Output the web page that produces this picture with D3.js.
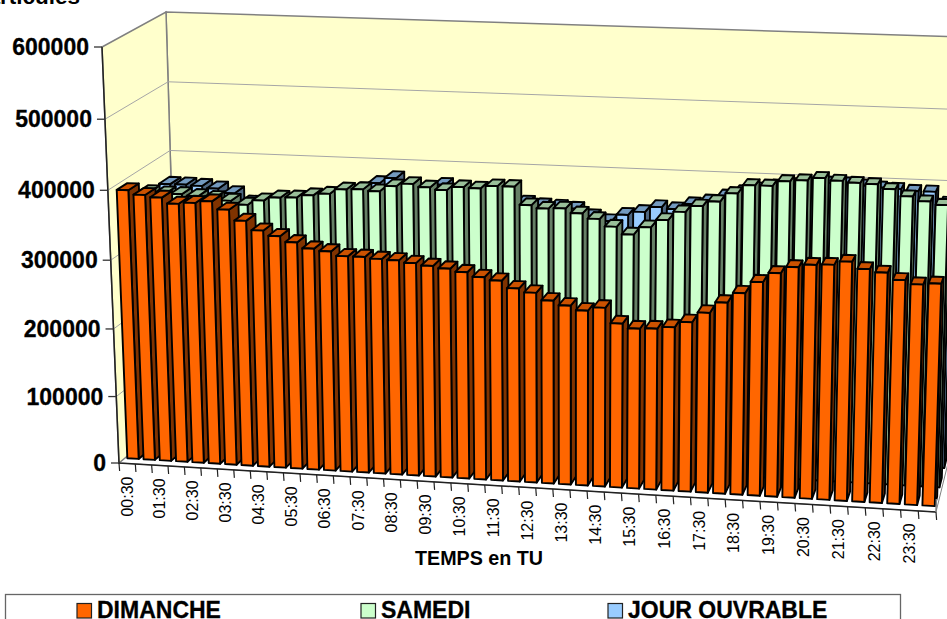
<!DOCTYPE html>
<html><head><meta charset="utf-8">
<script src="https://cdn.jsdelivr.net/npm/d3@7"></script>
<style>html,body{margin:0;padding:0;background:#fff;overflow:hidden}svg{display:block}text{font-family:"Liberation Sans",Arial,sans-serif}</style>
</head><body><svg id="c" width="947" height="619"></svg>
<script>
const categories=["00:30","01:00","01:30","02:00","02:30","03:00","03:30","04:00","04:30","05:00","05:30","06:00","06:30","07:00","07:30","08:00","08:30","09:00","09:30","10:00","10:30","11:00","11:30","12:00","12:30","13:00","13:30","14:00","14:30","15:00","15:30","16:00","16:30","17:00","17:30","18:00","18:30","19:00","19:30","20:00","20:30","21:00","21:30","22:00","22:30","23:00","23:30","24:00"];
const dimanche=[395,389,386,378,380,383,372,357,344,337,329,321,318,312,312,310,309,306,303,300,296,290,286,276,271,261,255,249,254,233,227,228,231,239,253,268,282,298,311,320,324,325,330,321,317,308,303,305].map(v=>v*1000);
const samedi=[373,372,372,370,368,365,360,367,372,373,377,380,387,388,386,394,398,394,391,396,395,399,399,374,370,371,365,358,348,338,349,360,372,381,388,400,412,412,419,421,425,422,420,419,413,404,398,394].map(v=>v*1000);
const ouvrable=[365,365,364,361,355,342,338,340,345,350,355,360,368,378,386,375,372,379,370,368,365,362,358,355,354,352,342,336,346,351,359,357,365,370,378,385,390,395,398,400,402,402,400,398,397,395,395,380].map(v=>v*1000);
const yTicks=[0,100000,200000,300000,400000,500000,600000];
const seriesNames=["DIMANCHE","SAMEDI","JOUR OUVRABLE"];

const svg=d3.select("#c");
const unit=d3.scaleLinear().domain([0,600000]).range([0,1]);
const band=d3.scaleBand().domain(categories).range([0,1]).paddingInner(0.3).paddingOuter(0.15);
const warp=t=>t+0.043*t*(t-1);
const warpV=v=>v+0.05*v*(v-1);
const C={fbl:[119,463],fbr:[936,512],ftl:[102,47],ftr:[949,60],bbl:[178,414],bbr:[950,455],btl:[166,12],btr:[964,37]};
const lerp=(a,b,k)=>a+(b-a)*k;
function P(t,v0,d){
  const u=warp(t),v=warpV(v0),out=[];
  for(const i of [0,1]){
    const fb=lerp(C.fbl[i],C.fbr[i],u),ft=lerp(C.ftl[i],C.ftr[i],u),bb=lerp(C.bbl[i],C.bbr[i],u),bt=lerp(C.btl[i],C.btr[i],u);
    out.push(lerp(lerp(fb,ft,v),lerp(bb,bt,v),d));
  }
  return out;
}
const path=pts=>"M"+pts.map(p=>p.map(n=>n.toFixed(2)).join(",")).join("L")+"Z";
const wallFill="#FFFFCC",wallStroke="#808080";
svg.append("path").attr("d",path([P(0,0,0),P(1,0,0),P(1,0,1),P(0,0,1)])).attr("fill","#fff").attr("stroke",wallStroke);
svg.append("path").attr("d",path([P(0,0,1),P(1,0,1),P(1,1,1),P(0,1,1)])).attr("fill",wallFill).attr("stroke",wallStroke).attr("stroke-width",1.5);
svg.append("path").attr("d",path([P(0,0,0),P(0,0,1),P(0,1,1),P(0,1,0)])).attr("fill",wallFill).attr("stroke",wallStroke).attr("stroke-width",1.5);
yTicks.slice(1,-1).forEach(v=>{
  const k=unit(v);
  svg.append("path").attr("d",d3.line()([P(0,k,0),P(0,k,1),P(1,k,1)])).attr("fill","none").attr("stroke","#a6a6a6").attr("stroke-width",1);
});
const series=[
 {name:"JOUR OUVRABLE",values:ouvrable,d0:0.77,front:"#99CCFF",top:"#739ABF",side:"#4D6680"},
 {name:"SAMEDI",values:samedi,d0:0.43,front:"#CCFFCC",top:"#99BF99",side:"#668066"},
 {name:"DIMANCHE",values:dimanche,d0:0.10,front:"#FF6600",top:"#CC5200",side:"#803300"}
];
const barDepth=0.17;
series.forEach(s=>{
  const g=svg.append("g").attr("stroke","#000").attr("stroke-width",1.9).attr("stroke-linejoin","round");
  s.values.forEach((val,i)=>{
    const a=band(categories[i]),b=a+band.bandwidth(),k=unit(val),d0=s.d0,d1=d0+barDepth;
    g.append("path").attr("d",path([P(b,0,d0),P(b,0,d1),P(b,k,d1),P(b,k,d0)])).attr("fill",s.side);
    g.append("path").attr("d",path([P(a,k,d0),P(b,k,d0),P(b,k,d1),P(a,k,d1)])).attr("fill",s.top);
    g.append("path").attr("d",path([P(a,0,d0),P(b,0,d0),P(b,k,d0),P(a,k,d0)])).attr("fill",s.front);
  });
});
svg.append("path").attr("d",d3.line()([P(0,1,0),P(0,0,0),P(1,0,0)])).attr("fill","none").attr("stroke","#222").attr("stroke-width",1.5);
svg.append("path").attr("d",d3.line()([P(1,0,0),P(1,0.03,0)])).attr("fill","none").attr("stroke","#808080").attr("stroke-width",1.5);
yTicks.forEach(v=>{
  const p=P(0,unit(v),0);
  svg.append("line").attr("x1",p[0]-8).attr("x2",p[0]).attr("y1",p[1]).attr("y2",p[1]).attr("stroke","#333").attr("stroke-width",1.3);
  svg.append("text").attr("x",p[0]-13).attr("y",p[1]+8).attr("text-anchor","end").attr("font-size",23).attr("font-weight","bold").attr("stroke","#000").attr("stroke-width",0.3).text(v);
});
const step=band.step();
d3.range(categories.length+1).forEach(i=>{
  const p=P(i*step,0,0);
  svg.append("line").attr("x1",p[0]).attr("x2",p[0]+0.6).attr("y1",p[1]).attr("y2",p[1]+8).attr("stroke","#222").attr("stroke-width",1.2);
});
categories.forEach((c,i)=>{
  if(i%2) return;
  const p=P((i+0.5)*step,0,0);
  svg.append("text").attr("transform",`translate(${p[0]+5.5},${p[1]+13}) rotate(-90)`).attr("text-anchor","end").attr("font-size",16).text(c);
});
svg.append("text").attr("x",479).attr("y",565).attr("text-anchor","middle").attr("font-size",19.7).attr("font-weight","bold").text("TEMPS en TU");
svg.append("text").attr("x",80).attr("y",4).attr("text-anchor","end").attr("font-size",22.5).attr("font-weight","bold").text("Particules");
svg.append("rect").attr("x",5.5).attr("y",594.5).attr("width",895).attr("height",40).attr("fill","#fff").attr("stroke","#666").attr("stroke-width",1.3);
const keyX=[77,361,608];
[series[2],series[1],series[0]].forEach((s,i)=>{
  svg.append("rect").attr("x",keyX[i]).attr("y",603.5).attr("width",14.5).attr("height",14.5).attr("fill",s.front).attr("stroke","#222").attr("stroke-width",1.2);
  svg.append("text").attr("x",keyX[i]+20).attr("y",618).attr("font-size",23).attr("font-weight","bold").attr("stroke","#000").attr("stroke-width",0.3).text(seriesNames[i]);
});
</script></body></html>
